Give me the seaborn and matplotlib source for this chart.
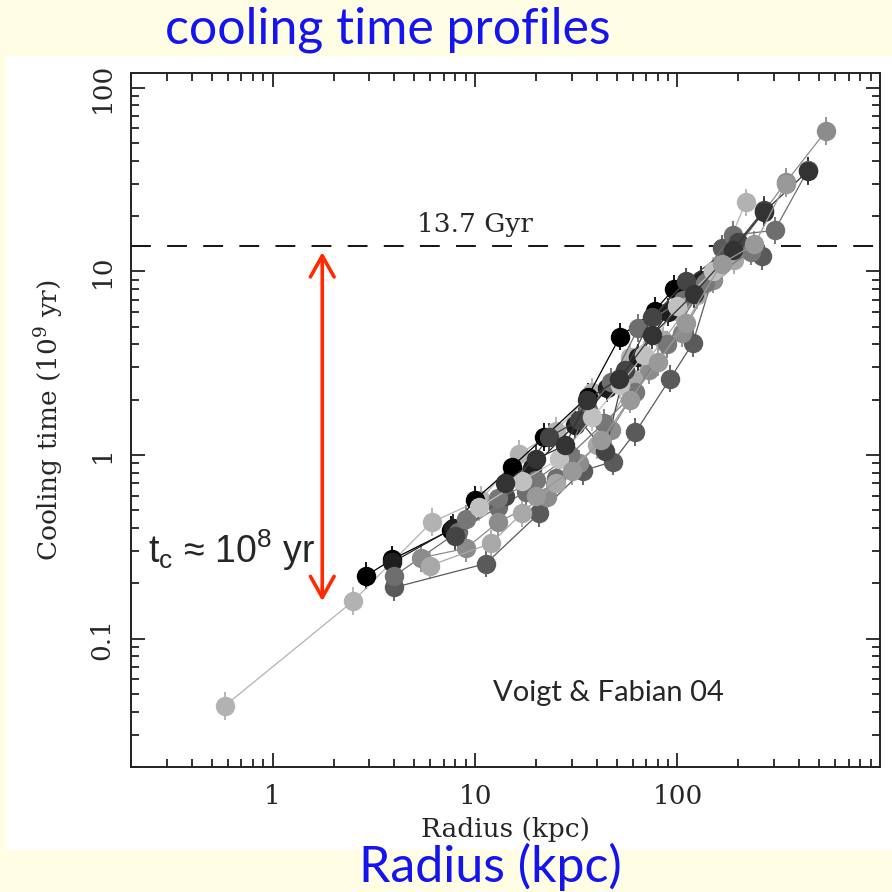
import matplotlib
matplotlib.use("Agg")
import matplotlib.pyplot as plt
import matplotlib.patches as mpatches
from matplotlib.ticker import LogLocator, NullFormatter
import numpy as np
import pandas as pd
import seaborn as sns

sns.set_style("ticks")
plt.rcParams['font.family'] = ['DejaVu Serif', 'DejaVu Sans']

# cooling time profiles, one entry per cluster (radius in kpc, t_cool in 1e9 yr)
series_names = ['c01', 'c02', 'c03', 'c04', 'c05', 'c06',
                'c07', 'c08', 'c09', 'c10', 'c11', 'c12']
series_shades = ['#b2b2b2', '#000000', '#1e1e1e', '#5a5a5a', '#6e6e6e', '#8c8c8c',
                 '#a8a8a8', '#444444', '#777777', '#c0c0c0', '#333333', '#999999']
radius = [
    [0.58, 2.5, 6.1, 10.7, 16.5, 25, 38, 58, 100, 160, 217],
    [2.9, 3.9, 7.6, 10, 15.2, 22, 36, 52, 77, 96],
    [3.9, 7.8, 19.2, 31, 45, 64, 90, 130],
    [4.0, 11.3, 20.7, 34, 48, 62, 92, 119, 165, 262],
    [4.0, 8.2, 13, 17.9, 25, 36, 47, 64, 106, 187, 302, 440],
    [5.4, 9.0, 13, 22.7, 32.7, 47, 72, 105, 150, 343, 541],
    [6.0, 12, 17, 25, 40, 60, 85, 125, 190],
    [8.0, 14, 23.2, 32.7, 44, 55, 75, 110, 200, 267],
    [9.0, 13.0, 20, 29.5, 43.5, 62, 89, 136, 230],
    [10.5, 17, 26, 38, 52, 68, 100, 150],
    [14, 20, 27.9, 35.8, 51.6, 75, 120, 187, 267, 440],
    [20, 30, 42, 58, 80, 110, 165, 240, 343],
]
tcool = [
    [0.043, 0.16, 0.43, 0.57, 1.01, 1.35, 2.2, 3.4, 6.1, 10.5, 23.7],
    [0.22, 0.27, 0.39, 0.57, 0.86, 1.25, 2.07, 4.4, 6.1, 8.0],
    [0.26, 0.40, 0.85, 1.45, 2.3, 3.4, 6.0, 9.0],
    [0.19, 0.256, 0.48, 0.82, 0.92, 1.33, 2.6, 4.06, 13.3, 12.1],
    [0.22, 0.38, 0.52, 0.63, 0.75, 1.76, 2.5, 4.9, 7.0, 15.7, 16.7, 35.4],
    [0.275, 0.31, 0.43, 0.59, 0.9, 1.37, 2.9, 4.6, 9.0, 30.5, 58],
    [0.25, 0.33, 0.48, 0.7, 1.13, 2.6, 4.2, 7.4, 11.5],
    [0.36, 0.6, 1.25, 1.55, 1.05, 2.9, 5.6, 8.8, 14.5, 21.5],
    [0.45, 0.58, 0.73, 1.0, 1.5, 2.2, 4.0, 8.6, 12.8],
    [0.52, 0.72, 0.95, 1.6, 2.4, 3.5, 6.5, 10.0],
    [0.7, 0.95, 1.13, 2.0, 2.6, 4.5, 7.5, 13, 21, 35],
    [0.6, 0.82, 1.2, 2.0, 3.2, 5.2, 11, 14, 30],
]
err_dex = 0.075  # typical log error on t_cool

age_universe = 13.7
arrow_x = 1.76
arrow_top, arrow_bottom = 12.7, 0.16

rows = []
for name, xs, ys in zip(series_names, radius, tcool):
    for i, (x, y) in enumerate(zip(xs, ys)):
        rows.append({'cluster': name, 'order': i, 'r': x, 't': y})
df = pd.DataFrame(rows)
palette = dict(zip(series_names, series_shades))

fig = plt.figure(figsize=(8.92, 8.92), dpi=100)
fig.patch.set_facecolor('#fffde3')
fig.patches.append(mpatches.Rectangle((0.0067, 0.047), 0.993, 0.890, transform=fig.transFigure,
                                      facecolor='white', edgecolor='none', zorder=-5))
ax = fig.add_axes([0.1469, 0.1401, 0.8396, 0.7781])
ax.set_facecolor('white')

# error bars underneath the points
for name, xs, ys in zip(series_names, radius, tcool):
    ys = np.array(ys)
    lo = ys * (1 - 10 ** -err_dex)
    hi = ys * (10 ** err_dex - 1)
    ax.errorbar(xs, ys, yerr=[lo, hi], fmt='none', ecolor=palette[name], elinewidth=1.3, zorder=1.5)

sns.lineplot(data=df, x='r', y='t', hue='cluster', palette=palette, units='cluster',
             estimator=None, sort=False, marker='o', markersize=14, markeredgewidth=0,
             linewidth=0.9, legend=False, ax=ax, zorder=2)

ax.set_xscale('log')
ax.set_yscale('log')
ax.set_xlim(0.2, 1000)
ax.set_ylim(0.02, 120)

ax.axhline(age_universe, color='black', lw=1.3, dashes=(11, 9), zorder=1)
ax.text(10, 15.3, '13.7 Gyr', ha='center', va='bottom', fontsize=19)

ax.annotate('', xy=(arrow_x, arrow_bottom), xytext=(arrow_x, arrow_top),
            arrowprops=dict(arrowstyle='<->, head_length=0.8, head_width=0.45',
                            color='#ff2a00', lw=2.6, mutation_scale=19, shrinkA=0, shrinkB=0))
ax.text(0.023, 0.312, r'$\mathregular{t_c}$ ≈ 10$\mathregular{^8}$ yr', transform=ax.transAxes,
        fontsize=27, family=['Liberation Sans', 'DejaVu Sans'], ha='left', va='center')
ax.text(0.638, 0.107, 'Voigt & Fabian 04', transform=ax.transAxes, fontsize=21,
        family=['Lato', 'DejaVu Sans'], ha='center', va='center')

ax.set_xticks([1, 10, 100])
ax.set_xticklabels(['1', '10', '100'])
ax.set_yticks([0.1, 1, 10, 100])
ax.set_yticklabels(['0.1', '1', '10', '100'], rotation=90, va='center')
ax.xaxis.set_minor_locator(LogLocator(base=10, subs=np.arange(2, 10)))
ax.yaxis.set_minor_locator(LogLocator(base=10, subs=np.arange(2, 10)))
ax.xaxis.set_minor_formatter(NullFormatter())
ax.yaxis.set_minor_formatter(NullFormatter())
ax.tick_params(which='both', direction='in', top=True, right=True, width=1.3, color='#222222')
ax.tick_params(which='major', length=10, labelsize=19, pad=12)
ax.tick_params(which='minor', length=5.5)
ax.tick_params(axis='y', which='major', pad=12)
for s in ax.spines.values():
    s.set_linewidth(1.4)
    s.set_color('#222222')

ax.set_xlabel('Radius (kpc)', fontsize=19, labelpad=6)
ax.set_ylabel(r'Cooling time ($\mathregular{10^9}$ yr)', fontsize=19, labelpad=17)

fig.text(0.435, 0.967, 'cooling time profiles', color='#1414f0', fontsize=36,
         family=['Lato', 'DejaVu Sans'], ha='center', va='center')
fig.text(0.550, 0.028, 'Radius (kpc)', color='#1414f0', fontsize=36,
         family=['Lato', 'DejaVu Sans'], ha='center', va='center')

fig.savefig('out.png', dpi=100, facecolor=fig.get_facecolor())
